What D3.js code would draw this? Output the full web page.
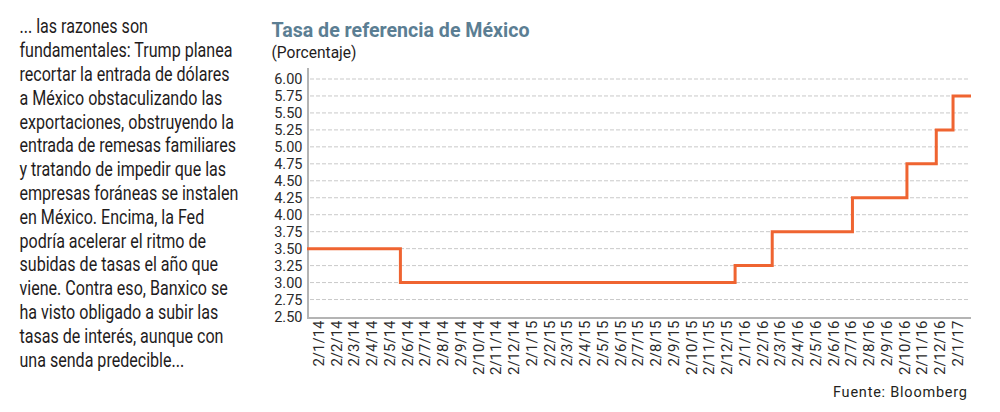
<!DOCTYPE html>
<html>
<head>
<meta charset="utf-8">
<script src="https://cdn.jsdelivr.net/npm/d3@7"></script>
<style>
  html, body { margin: 0; padding: 0; background: #fff; }
  svg { display: block; }
  text { font-family: Roboto, "Noto Sans", sans-serif; }
</style>
</head>
<body>
<svg id="chart" width="1000" height="412"></svg>
<script>
// ---- Data ----
const paragraphLines = [
  "... las razones son",
  "fundamentales: Trump planea",
  "recortar la entrada de dólares",
  "a México obstaculizando las",
  "exportaciones, obstruyendo la",
  "entrada de remesas familiares",
  "y tratando de impedir que las",
  "empresas foráneas se instalen",
  "en México. Encima, la Fed",
  "podría acelerar el ritmo de",
  "subidas de tasas el año que",
  "viene. Contra eso, Banxico se",
  "ha visto obligado a subir las",
  "tasas de interés, aunque con",
  "una senda predecible..."
];
const titleText = "Tasa de referencia de México";
const subtitleText = "(Porcentaje)";
const sourceText = "Fuente: Bloomberg";

// Dates at which the reference rate changed, and the rate from that date on
const changeDates = ["2014-01-01", "2014-06-06", "2015-12-17", "2016-02-17",
                     "2016-06-30", "2016-09-29", "2016-11-17", "2016-12-15", "2017-01-14"];
const rates = [3.50, 3.00, 3.25, 3.75, 4.25, 4.75, 5.25, 5.75, 5.75];

const xLabels = [
  "2/1/14","2/2/14","2/3/14","2/4/14","2/5/14","2/6/14","2/7/14","2/8/14","2/9/14","2/10/14","2/11/14","2/12/14",
  "2/1/15","2/2/15","2/3/15","2/4/15","2/5/15","2/6/15","2/7/15","2/8/15","2/9/15","2/10/15","2/11/15","2/12/15",
  "2/1/16","2/2/16","2/3/16","2/4/16","2/5/16","2/6/16","2/7/16","2/8/16","2/9/16","2/10/16","2/11/16","2/12/16",
  "2/1/17"
];
const yTicks = [2.50, 2.75, 3.00, 3.25, 3.50, 3.75, 4.00, 4.25, 4.50, 4.75, 5.00, 5.25, 5.50, 5.75, 6.00];

// ---- Drawing ----
const svg = d3.select("#chart");
const parseDate = d3.timeParse("%Y-%m-%d");
const series = changeDates.map((d, i) => ({ date: parseDate(d), value: rates[i] }));

const x = d3.scaleTime()
  .domain(d3.extent(series, d => d.date))
  .range([307, 971]);
const y = d3.scaleLinear().domain([2.5, 6]).range([316.5, 79]);
const xCat = d3.scalePoint().domain(xLabels).range([318, 957]);

// Left paragraph
const para = svg.append("g");
para.selectAll("text").data(paragraphLines).join("text")
  .attr("x", 0)
  .attr("y", (d, i) => 33.5 + 23.8 * i)
  .attr("font-size", 20)
  .attr("fill", "#1f1c1d")
  .text(d => d);
let maxW = 0;
para.selectAll("text").each(function() { maxW = Math.max(maxW, this.getComputedTextLength()); });
para.attr("transform", `translate(19.5,0) scale(${219 / maxW},1)`);

// Title & subtitle
svg.append("text")
  .attr("x", 271.5).attr("y", 36.5)
  .attr("font-size", 21).attr("font-weight", "bold")
  .attr("fill", "#5b7e93")
  .attr("textLength", 258).attr("lengthAdjust", "spacingAndGlyphs")
  .text(titleText);
svg.append("text")
  .attr("x", 271.5).attr("y", 58)
  .attr("font-size", 16.5)
  .attr("fill", "#1f1c1d")
  .attr("textLength", 85).attr("lengthAdjust", "spacingAndGlyphs")
  .text(subtitleText);

// Gridlines
svg.append("g").selectAll("line").data(yTicks.filter(v => v > 2.5)).join("line")
  .attr("x1", 310).attr("x2", 968)
  .attr("y1", d => y(d)).attr("y2", d => y(d))
  .attr("stroke", "#c9c9c9").attr("stroke-width", 1)
  .attr("stroke-dasharray", "4,2");

// Y axis
const yAxis = svg.append("g")
  .attr("transform", "translate(308,0)")
  .call(d3.axisLeft(y).tickValues(yTicks).tickFormat(d3.format(".2f")).tickSize(0).tickPadding(6));
yAxis.select(".domain").remove();
yAxis.selectAll("text")
  .attr("font-size", 14.5)
  .attr("font-family", "Roboto, sans-serif")
  .attr("fill", "#2a2a2a")
  .attr("x", -5.5);

svg.append("line")
  .attr("x1", 308).attr("x2", 308).attr("y1", 68).attr("y2", 319)
  .attr("stroke", "#b4b4b4").attr("stroke-width", 2);

// X axis (category labels)
const xAxis = svg.append("g")
  .attr("transform", `translate(0,${y(2.5) + 1.5})`)
  .call(d3.axisBottom(xCat).tickSize(0).tickPadding(0));
xAxis.select(".domain").remove();
xAxis.selectAll("text")
  .attr("font-size", 15)
  .attr("font-family", "Roboto, sans-serif")
  .attr("fill", "#2a2a2a")
  .attr("text-anchor", "end")
  .attr("transform", "rotate(-90)")
  .attr("x", -2.5).attr("y", 0).attr("dy", "0.35em");

svg.append("line")
  .attr("x1", 307).attr("x2", 971).attr("y1", y(2.5) + 1.5).attr("y2", y(2.5) + 1.5)
  .attr("stroke", "#b4b4b4").attr("stroke-width", 2);

// Rate line
const line = d3.line()
  .x(d => x(d.date))
  .y(d => y(d.value))
  .curve(d3.curveStepAfter);
svg.append("path")
  .datum(series)
  .attr("d", line)
  .attr("fill", "none")
  .attr("stroke", "#ef6431")
  .attr("stroke-width", 3);

// Source
svg.append("text")
  .attr("x", 833).attr("y", 396.5)
  .attr("font-size", 14.5)
  .attr("font-family", "'Liberation Sans', Arial, sans-serif")
  .attr("fill", "#231f20")
  .attr("textLength", 134).attr("lengthAdjust", "spacing")
  .text(sourceText);
</script>
</body>
</html>
